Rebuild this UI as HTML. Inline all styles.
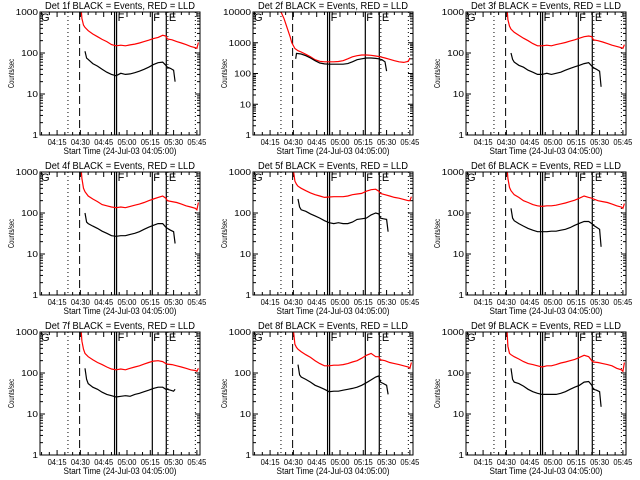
<!DOCTYPE html>
<html><head><meta charset="utf-8"><style>
html,body{margin:0;padding:0;background:#fff;}
svg{display:block;font-family:"Liberation Sans",sans-serif;}
</style></head><body>
<svg id="chart" width="640" height="480" viewBox="0 0 640 480" xmlns="http://www.w3.org/2000/svg"></svg>
<script>
const detNames = ["1f","2f","3f","4f","5f","6f","7f","8f","9f"];
const xTickLabels = ["04:15","04:30","04:45","05:00","05:15","05:30","05:45"];
const xTickMinutes = [10,25,40,55,70,85,100];
const redTimes = [25,26,27,28,30,33,36,39,42,45,48,51,54,57,60,63,66,69,72,75,78,80,81,84,87,90,93,96,99,100,101];
const blackTimes = [28,29,30,33,36,39,42,45,48,51,54,57,60,63,66,69,72,75,78,80,81,83,85,86];
const p2RedTimes = [17,19,21,23,24,26,28,30,33,36,39,42,45,48,51,54,57,60,63,66,69,72,75,78,81,84,87,90,93,96,99,100];
const p2BlackTimes = [26.5,27,30,33,36,39,42,45,48,51,54,57,60,63,66,69,72,75,78,80,82,84,85];
const p1Red = [2000,700,480,420,350,290,250,215,190,160,150,155,150,158,165,175,190,205,225,240,270,260,220,210,190,175,160,145,135,130,180];
const p1Black = [110,75,70,55,48,40,34,30,28,32,30,31,33,36,40,45,52,58,60,50,45,42,38,20];
const p2Red = [10000,6000,3000,1500,1000,650,550,500,420,350,280,250,240,240,240,245,260,300,350,380,400,400,390,370,350,320,290,260,240,230,250,320];
const p2Black = [300,450,430,380,320,260,220,205,200,200,200,200,210,240,280,300,320,320,310,300,280,240,120];
const p3Red = [2000,650,450,380,320,270,230,200,170,150,150,155,150,160,170,180,195,210,230,250,260,250,210,200,185,170,155,145,135,130,160];
const p3Black = [100,70,60,50,45,38,34,30,30,32,30,32,34,38,42,46,50,55,58,48,44,40,36,15];
const p4Red = [2000,700,400,330,260,220,190,160,150,140,135,140,135,145,155,165,180,200,220,240,260,230,200,190,180,165,150,140,130,120,180];
const p4Black = [100,60,55,48,42,36,32,28,27,28,28,30,32,35,40,45,50,55,55,45,42,38,35,18];
const p5Red = [1100,600,500,450,400,350,310,280,260,240,245,250,250,250,260,280,290,300,340,370,380,340,300,280,260,240,230,215,200,200,250];
const p5Black = [220,140,120,110,95,85,75,65,58,55,58,55,55,60,70,72,75,90,100,95,75,72,70,35];
const p6Red = [2000,700,420,350,280,240,200,180,160,150,145,150,150,155,165,175,190,205,230,260,240,230,220,200,190,180,165,150,140,130,170];
const p6Black = [130,75,65,55,48,42,38,35,35,35,36,36,38,40,44,50,56,62,62,55,50,45,40,15];
const p7Red = [2000,600,380,300,250,210,180,160,140,125,120,125,120,130,140,150,165,180,195,200,190,170,165,160,150,140,130,120,115,110,130];
const p7Black = [130,70,55,45,40,34,30,28,26,27,28,27,30,32,35,38,42,45,45,40,40,38,36,40];
const p8Red = [1100,500,420,380,330,280,240,200,170,150,150,155,155,160,170,185,200,230,270,300,250,250,210,200,180,170,160,150,140,130,180];
const p8Black = [160,90,80,70,60,50,45,40,35,36,36,38,40,42,45,50,58,68,80,85,60,55,50,30];
const p9Red = [2000,450,300,280,250,220,190,170,160,150,140,150,150,160,175,185,200,215,240,270,250,200,185,180,170,160,150,130,120,110,180];
const p9Black = [130,70,60,55,48,40,35,32,30,30,30,30,32,35,40,45,50,60,62,50,40,38,35,15];
const redSeries = [p1Red,p2Red,p3Red,p4Red,p5Red,p6Red,p7Red,p8Red,p9Red];
const blackSeries = [p1Black,p2Black,p3Black,p4Black,p5Black,p6Black,p7Black,p8Black,p9Black];
const markerMinutes = [17,24.5,47,48.3,71.3,80.3,81.3,99];
const markerStyles = ["dot","dash","solid","solid","solid","solid","dot","dot"];
const markerLetters = ["F","F","E"];
const markerLetterMinutes = [48.3,71.3,81.3];

const NS = "http://www.w3.org/2000/svg";
const svg = document.getElementById("chart");
function mk(tag, attrs, parent){const e=document.createElementNS(NS,tag);for(const k in attrs)e.setAttribute(k,attrs[k]);(parent||svg).appendChild(e);return e;}

for(let p=0;p<9;p++){
  const cx=[0,213,426][p%3], ry=[0,160,320][Math.floor(p/3)];
  const L=cx+40,R=cx+200,T=ry+12,B=ry+135;
  const decades = p===1?4:3;
  const tMin=-1,tMax=102;
  const xs=t=>L+(t-tMin)/(tMax-tMin)*(R-L);
  const ys=v=>B-Math.log10(Math.max(v,1))/decades*(B-T);
  const g=mk("g",{});
  
  
  const clipId="clip"+p;
  const cp=mk("clipPath",{id:clipId},g); mk("rect",{x:L,y:T,width:R-L,height:B-T},cp);
  const title=mk("text",{x:(L+R)/2,y:ry+9,"text-anchor":"middle","font-size":"10",textLength:"150",lengthAdjust:"spacingAndGlyphs"},g);
  title.textContent="Det "+detNames[p]+" BLACK = Events, RED = LLD";
  
  
  const yl=mk("text",{x:0,y:0,"text-anchor":"middle","font-size":"8",textLength:"29",lengthAdjust:"spacingAndGlyphs",transform:`translate(${cx+14},${(T+B)/2}) rotate(-90)`},g);
  yl.textContent="Counts/sec";
  
  
  const xl=mk("text",{x:(L+R)/2,y:ry+154,"text-anchor":"middle","font-size":"9",textLength:"113",lengthAdjust:"spacingAndGlyphs"},g);
  xl.textContent="Start Time (24-Jul-03 04:05:00)";
  
  
  for(let d=0;d<=decades;d++){
    const y=ys(Math.pow(10,d));
    mk("line",{x1:L,x2:L+5,y1:y,y2:y,stroke:"#000"},g);
    mk("line",{x1:R,x2:R-5,y1:y,y2:y,stroke:"#000"},g);
    const s=String(Math.pow(10,d));
    const tl=mk("text",{x:L-2,y:y+3,"text-anchor":"end","font-size":"8",textLength:String(s.length*5.6),lengthAdjust:"spacingAndGlyphs"},g);
    tl.textContent=s;
    
    
    if(d<decades){for(let m=2;m<10;m++){const yy=ys(m*Math.pow(10,d));
      mk("line",{x1:L,x2:L+3,y1:yy,y2:yy,stroke:"#000"},g);
      mk("line",{x1:R,x2:R-3,y1:yy,y2:yy,stroke:"#000"},g);}}
  }
  for(let t=0;t<=100;t+=5){const x=xs(t);const len=(t-10)%15===0?5:3;
    mk("line",{x1:x,x2:x,y1:B,y2:B-len,stroke:"#000"},g);
    mk("line",{x1:x,x2:x,y1:T,y2:T+len,stroke:"#000"},g);}
  xTickLabels.forEach((lab,i)=>{const tl=mk("text",{x:xs(xTickMinutes[i]),y:ry+145,"text-anchor":"middle","font-size":"8",textLength:"19",lengthAdjust:"spacingAndGlyphs"},g);
    tl.textContent=lab;
    
    });
  markerMinutes.forEach((t,i)=>{const x=xs(t);const st=markerStyles[i];
    const ln=mk("line",{x1:x,x2:x,y1:T,y2:B,stroke:"#000","stroke-width":st==="solid"?1.2:1,"stroke-dasharray":st==="dot"?"1,3":st==="dash"?"8,4":"none"},g);
    
    });
  const gl=mk("text",{x:L+1,y:T+9,"font-size":"11"},g); gl.textContent="G";
  
  
  markerLetters.forEach((s,i)=>{const tl=mk("text",{x:xs(markerLetterMinutes[i])+1,y:T+9,"font-size":"11"},g);tl.textContent=s;
    
    });
  const rt=p===1?p2RedTimes:redTimes, bt=p===1?p2BlackTimes:blackTimes;
  const rpts=redSeries[p].map((v,i)=>xs(rt[i]).toFixed(1)+","+ys(v).toFixed(1)).join(" ");
  const bpts=blackSeries[p].map((v,i)=>xs(bt[i]).toFixed(1)+","+ys(v).toFixed(1)).join(" ");
  const rl=mk("polyline",{points:rpts,fill:"none",stroke:"#ff0000","stroke-width":1.2,"clip-path":`url(#${clipId})`},g);
  
  
  const bl=mk("polyline",{points:bpts,fill:"none",stroke:"#000","stroke-width":1.2,"clip-path":`url(#${clipId})`},g);
  
  
  const box=mk("rect",{x:L,y:T,width:R-L,height:B-T,fill:"none",stroke:"#000"},g);
  
  
}
</script>
</body></html>
